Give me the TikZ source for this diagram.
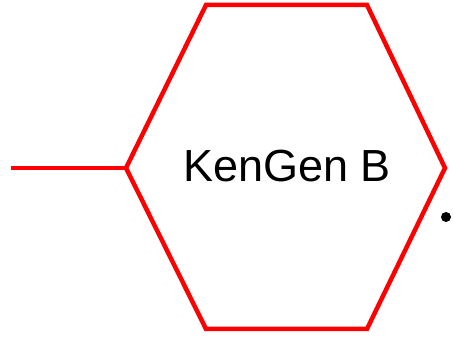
\documentclass[tikz,border=0pt]{standalone}
\usepackage{fontspec}
\setmainfont{Liberation Sans}
\definecolor{kgRed}{RGB}{255, 0, 0}

\begin{document}
\begin{tikzpicture}[x=1pt, y=-1pt,
    hexline/.style={line width=4.5pt, kgRed, line join=miter}]
    \useasboundingbox (0,0) rectangle (453,339);
    % hexagon corners
    \coordinate (hexW) at (126,168);
    \coordinate (hexNW) at (206,5);
    \coordinate (hexNE) at (367,5);
    \coordinate (hexE) at (445,168);
    \coordinate (hexSE) at (367,329);
    \coordinate (hexSW) at (206,329);
    \coordinate (feed) at (11,168);
    \draw[hexline] (hexW) -- (hexNW) -- (hexNE) -- (hexE) -- (hexSE) -- (hexSW) -- cycle;
    \draw[hexline] (feed) -- (hexW);
    \node[font=\fontsize{45}{50}\selectfont] (label) at (287,166) {KenGen B};
    \fill (446,217) circle (5);
\end{tikzpicture}
\end{document}
